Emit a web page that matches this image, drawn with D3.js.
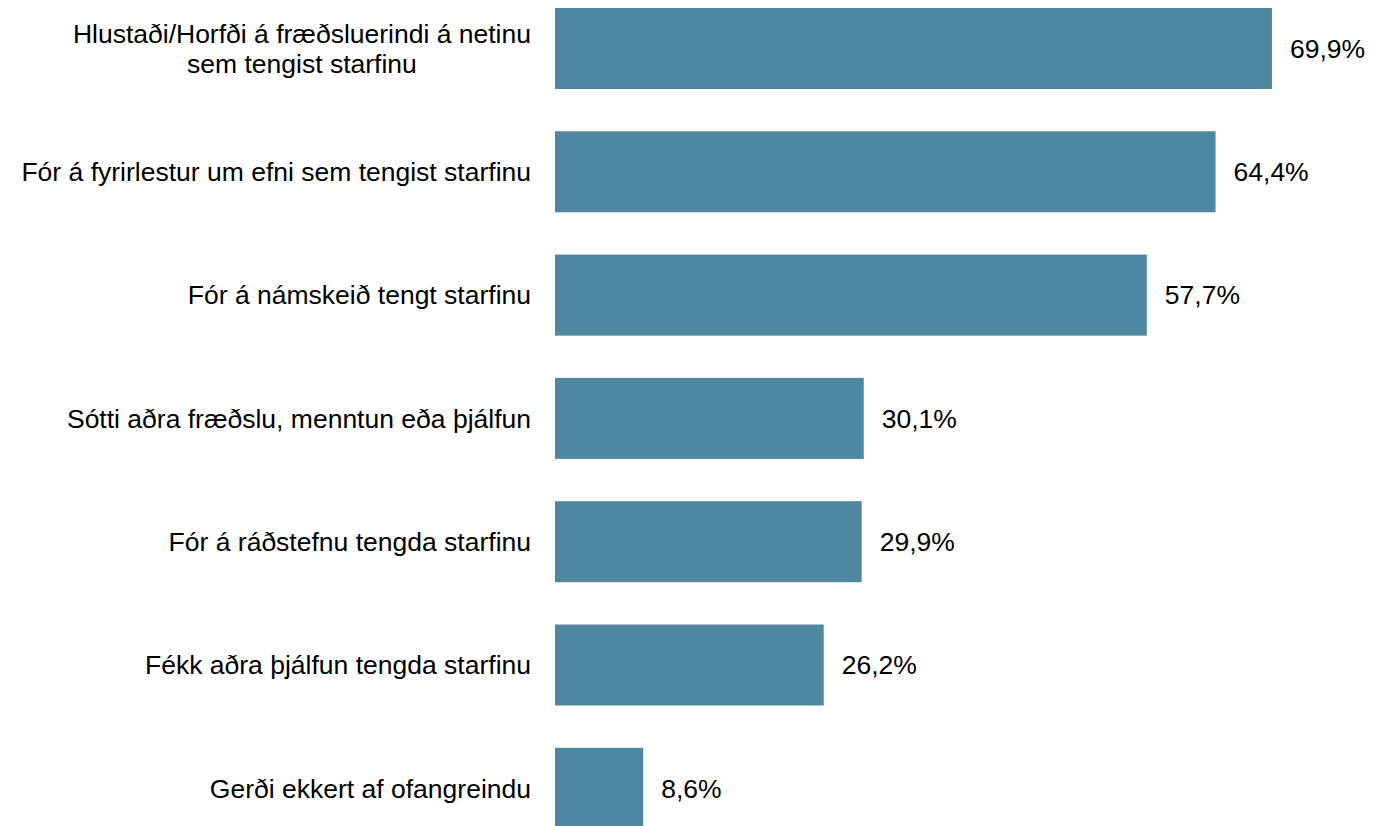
<!DOCTYPE html>
<html>
<head>
  <meta charset="utf-8">
  <script src="https://d3js.org/d3.v7.min.js"></script>
  <style>
    body { margin: 0; background: #fff; font-family: 'Liberation Sans', Arial, sans-serif; }
  </style>
</head>
<body>
  <div id="chart"></div>
  <script>
    // categories (lines split with "\n") and values in %
    var categories = [
      "Hlustaði/Horfði á fræðsluerindi á netinu\nsem tengist starfinu",
      "Fór á fyrirlestur um efni sem tengist starfinu",
      "Fór á námskeið tengt starfinu",
      "Sótti aðra fræðslu, menntun eða þjálfun",
      "Fór á ráðstefnu tengda starfinu",
      "Fékk aðra þjálfun tengda starfinu",
      "Gerði ekkert af ofangreindu"
    ];
    var values = [69.9, 64.4, 57.7, 30.1, 29.9, 26.2, 8.6];
    var valueLabels = ["69,9%", "64,4%", "57,7%", "30,1%", "29,9%", "26,2%", "8,6%"];

    var width = 1383, height = 826;
    var fontSize = "26.5px";
    var svg = d3.select("#chart").append("svg")
      .attr("width", width)
      .attr("height", height);

    var x = d3.scaleLinear()
      .domain([0, 70])
      .range([555, 555 + 70 * 10.257]);

    var y = d3.scaleBand()
      .domain(categories)
      .range([-13.15, 849.95])
      .paddingInner(0.343)
      .paddingOuter(0.1715);

    // bars
    svg.append("g")
      .selectAll("rect")
      .data(values)
      .enter()
      .append("rect")
      .attr("x", x(0))
      .attr("y", function (d, i) { return y(categories[i]); })
      .attr("width", function (d) { return x(d) - x(0); })
      .attr("height", y.bandwidth())
      .attr("fill", "#4e87a0");

    // value labels
    svg.append("g")
      .selectAll("text")
      .data(values)
      .enter()
      .append("text")
      .attr("x", function (d) { return x(d) + 18; })
      .attr("y", function (d, i) { return y(categories[i]) + y.bandwidth() / 2; })
      .attr("dy", "0.35em")
      .style("font-size", fontSize)
      .style("fill", "#000")
      .text(function (d, i) { return valueLabels[i]; });

    // category labels: block right-aligned at 531, lines centred within block
    var labelRight = 531, lineH = 30;
    var cats = svg.append("g")
      .selectAll("text")
      .data(categories)
      .enter()
      .append("text")
      .style("font-size", fontSize)
      .style("fill", "#000");

    cats.each(function (c) {
      var t = d3.select(this);
      var lines = c.split("\n");
      var cy = y(c) + y.bandwidth() / 2;
      lines.forEach(function (l, j) {
        t.append("tspan")
          .attr("y", cy + (j - (lines.length - 1) / 2) * lineH)
          .attr("dy", "0.35em")
          .text(l);
      });
      var maxW = 0;
      t.selectAll("tspan").each(function () {
        maxW = Math.max(maxW, this.getComputedTextLength());
      });
      t.attr("text-anchor", "middle");
      t.selectAll("tspan").attr("x", labelRight - maxW / 2);
    });
  </script>
</body>
</html>
